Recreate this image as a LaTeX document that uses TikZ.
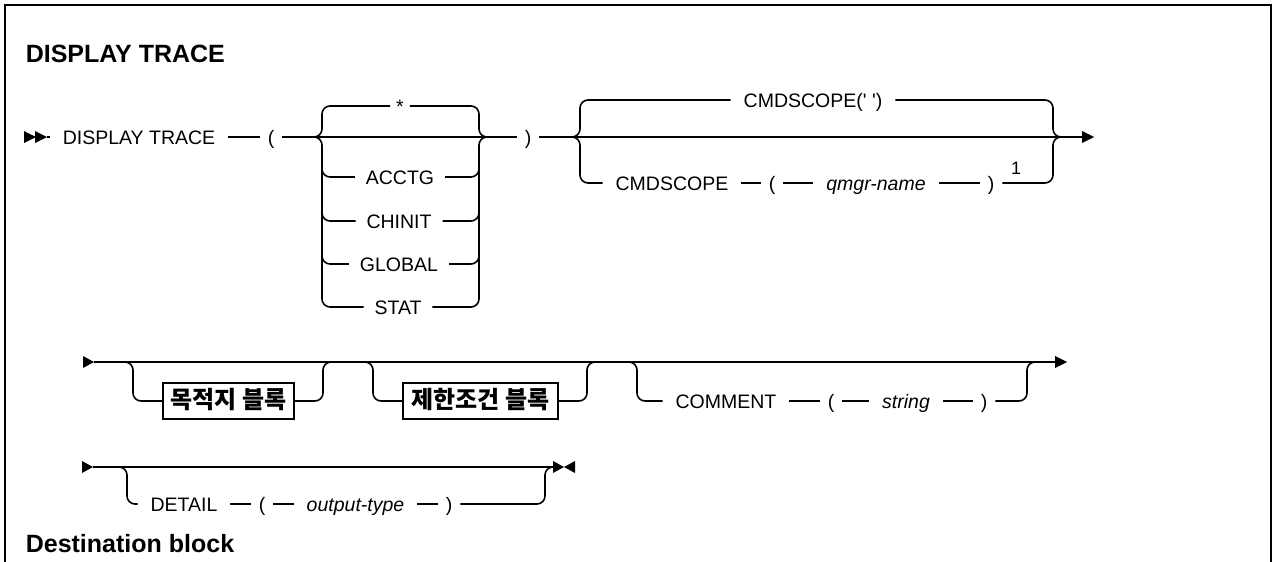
\documentclass[tikz,border=0pt]{standalone}
\usepackage{fontspec}
\setmainfont{Liberation Sans}
\newfontfamily\krfont{Noto Sans CJK KR}
\usetikzlibrary{calc}
\begin{document}
\begin{tikzpicture}[x=1pt,y=-1pt,line width=1.6pt,
  lbl/.style={inner sep=0pt,outer xsep=13pt,outer ysep=0pt,text height=14pt,text depth=0pt,font=\fontsize{19.5}{22}\selectfont},
  par/.style={lbl,outer xsep=8pt},
  var/.style={lbl,font=\fontsize{19.5}{22}\selectfont\itshape},
  rc/.style={rounded corners=8pt},
  blk/.style={draw,line width=1.6pt,inner sep=0pt,minimum height=36pt,text height=18pt,text depth=3pt,font=\krfont\bfseries\fontsize{24}{26}\selectfont},
  head/.style={anchor=west,inner sep=0pt,text height=18pt,text depth=0pt,font=\bfseries\fontsize{25}{28}\selectfont}
]
\useasboundingbox (0,0) rectangle (1274,562);
% frame
\draw[line width=2pt] (5,562) -- (5,5) -- (1271,5) -- (1271,562);
\node[head] (title) at (25,53) {DISPLAY TRACE};

% ---------- row 1 ----------
\fill (24,131) -- (36,137) -- (24,143) -- cycle;
\fill (35,131) -- (47,137) -- (35,143) -- cycle;
\coordinate (s1) at (47,137);
\node[lbl] (dt) at (139,137) {DISPLAY TRACE};
\node[par] (lp1) at (271,137) {(};
\draw (s1) -- (dt.west);
\draw (dt.east) -- (lp1.west);
\coordinate (g1L) at (313,137);
\coordinate (g1R) at (488,137);
\coordinate (r1L) at (322,137);
\coordinate (r1R) at (479,137);
\node[lbl,outer xsep=6pt] (star) at (400,106) {*};
\node[lbl,outer xsep=11pt] (acctg) at (400,177) {ACCTG};
\node[lbl,outer xsep=11pt] (chinit) at (399,221) {CHINIT};
\node[lbl,outer xsep=11pt] (global) at (399,264) {GLOBAL};
\node[lbl,outer xsep=11pt] (stat) at (398,307) {STAT};
\draw (lp1.east) -- (g1L) -- (g1R);
\draw[rc] (g1L) -| (star.west -| r1L) -- (star.west);
\draw[rc] (star.east) -| (r1R) -- (g1R);
\draw[rc] (g1L) -| (stat.west -| r1L) -- (stat.west);
\draw[rc] (stat.east) -| (r1R) -- (g1R);
\draw[rc] ($(acctg.west -| r1L)+(0,-20)$) |- (acctg.west);
\draw[rc] (acctg.east) -| ($(acctg.east -| r1R)+(0,-20)$);
\draw[rc] ($(chinit.west -| r1L)+(0,-20)$) |- (chinit.west);
\draw[rc] (chinit.east) -| ($(chinit.east -| r1R)+(0,-20)$);
\draw[rc] ($(global.west -| r1L)+(0,-20)$) |- (global.west);
\draw[rc] (global.east) -| ($(global.east -| r1R)+(0,-20)$);
\node[par] (rp1) at (528,137) {)};
\draw (g1R) -- (rp1.west);
\coordinate (g2L) at (572,137);
\coordinate (g2R) at (1061,137);
\coordinate (r2L) at (580,137);
\coordinate (r2R) at (1053,137);
\coordinate (e1) at (1082,137);
\draw (rp1.east) -- (g2L) -- (g2R) -- (e1);
\fill (1082,131) -- (1094,137) -- (1082,143) -- cycle;
\node[lbl] (cs0) at (813,100) {CMDSCOPE(\textquotesingle\ \textquotesingle)};
\draw[rc] (g2L) -| (cs0.west -| r2L) -- (cs0.west);
\draw[rc] (cs0.east) -| (r2R) -- (g2R);
\node[lbl] (cs1) at (672,183) {CMDSCOPE};
\node[par] (lp2) at (772,183) {(};
\node[var] (qn) at (876,183) {qmgr-name};
\node[par] (rp2) at (991,183) {)};
\node[inner sep=0pt,font=\fontsize{18}{20}\selectfont] (fn1) at (1016,168) {1};
\draw[rc] (g2L) -| (cs1.west -| r2L) -- (cs1.west);
\draw (cs1.east) -- (lp2.west);
\draw (lp2.east) -- (qn.west);
\draw (qn.east) -- (rp2.west);
\draw[rc] (rp2.east) -| (r2R) -- (g2R);

% ---------- row 2 ----------
\fill (83,356) -- (94,362) -- (83,368) -- cycle;
\coordinate (s2) at (94,362);
\coordinate (gAL) at (125,362);
\coordinate (rAL) at (133,362);
\coordinate (rAR) at (323,362);
\coordinate (gAR) at (331,362);
\coordinate (gBL) at (365,362);
\coordinate (rBL) at (373,362);
\coordinate (rBR) at (587,362);
\coordinate (gBR) at (595,362);
\coordinate (gCL) at (629,362);
\coordinate (rCL) at (637,362);
\coordinate (rCR) at (1027,362);
\coordinate (gCR) at (1035,362);
\coordinate (e2) at (1055,362);
\node[blk,minimum width=131pt] (bA) at (228.5,401) {목적지 블록};
\node[blk,minimum width=155pt] (bB) at (480.5,401) {제한조건 블록};
\node[lbl] (cm) at (726,401) {COMMENT};
\node[par] (lp3) at (831,401) {(};
\node[var] (str) at (906,401) {string};
\node[par] (rp3) at (984,401) {)};
\draw (s2) -- (gAL) -- (gAR) -- (gBL) -- (gBR) -- (gCL) -- (gCR) -- (e2);
\fill (1055,356) -- (1067,362) -- (1055,368) -- cycle;
\draw[rc] (gAL) -| (bA.west -| rAL) -- (bA.west);
\draw[rc] (bA.east) -| (rAR) -- (gAR);
\draw[rc] (gBL) -| (bB.west -| rBL) -- (bB.west);
\draw[rc] (bB.east) -| (rBR) -- (gBR);
\draw[rc] (gCL) -| (cm.west -| rCL) -- (cm.west);
\draw (cm.east) -- (lp3.west);
\draw (lp3.east) -- (str.west);
\draw (str.east) -- (rp3.west);
\draw[rc] (rp3.east) -| (rCR) -- (gCR);

% ---------- row 3 ----------
\fill (82,461) -- (93,467) -- (82,473) -- cycle;
\coordinate (s3) at (93,467);
\coordinate (gDL) at (119,467);
\coordinate (rDL) at (127,467);
\coordinate (rDR) at (545,467);
\coordinate (gDR) at (553,467);
\node[lbl] (dtl) at (184,504) {DETAIL};
\node[par] (lp4) at (262,504) {(};
\node[var] (ot) at (355.5,504) {output-type};
\node[par] (rp4) at (449,504) {)};
\draw (s3) -- (gDL) -- (gDR);
\fill (553,461) -- (564,467) -- (553,473) -- cycle;
\fill (575,461) -- (564,467) -- (575,473) -- cycle;
\draw[rc] (gDL) -| (dtl.west -| rDL) -- (dtl.west);
\draw (dtl.east) -- (lp4.west);
\draw (lp4.east) -- (ot.west);
\draw (ot.east) -- (rp4.west);
\draw[rc] (rp4.east) -| (rDR) -- (gDR);

\node[head] (dest) at (25,543) {Destination block};
\end{tikzpicture}
\end{document}
